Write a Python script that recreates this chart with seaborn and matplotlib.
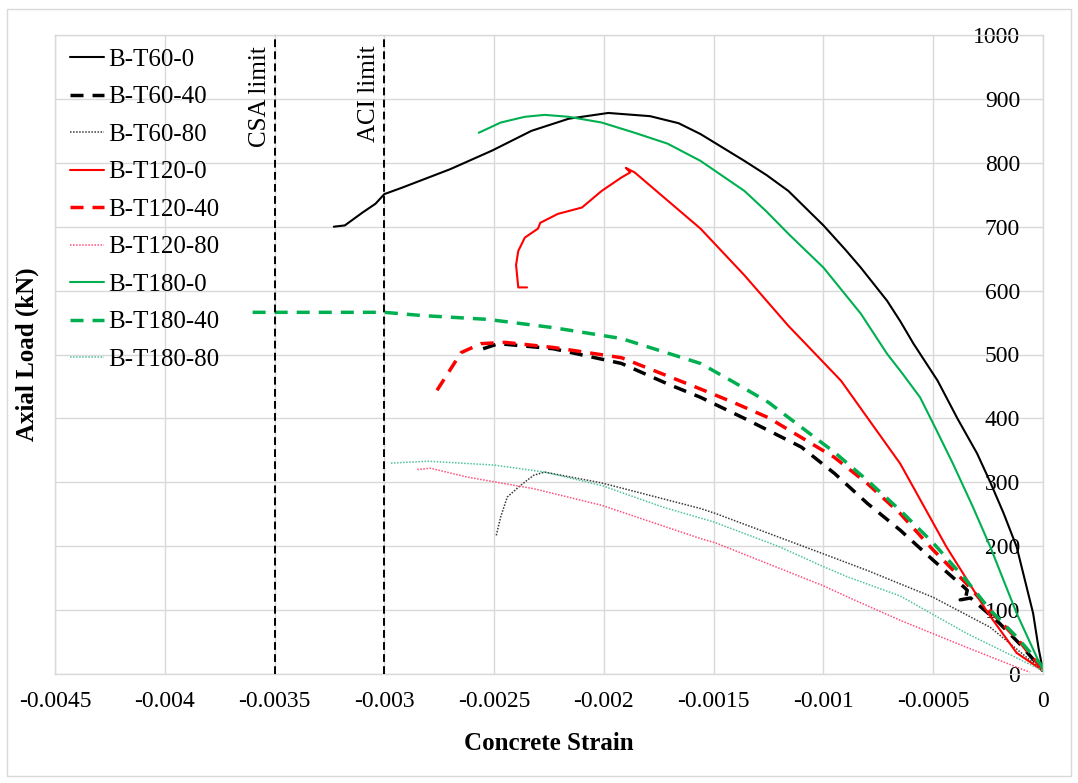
import numpy as np
import pandas as pd
import matplotlib
matplotlib.use("Agg")
import matplotlib.pyplot as plt
import seaborn as sns
from matplotlib.patches import Rectangle

# ---------------- data ----------------
series_names = ["B-T60-0", "B-T60-40", "B-T60-80",
                "B-T120-0", "B-T120-40", "B-T120-80",
                "B-T180-0", "B-T180-40", "B-T180-80"]

t60_0_x = [-0.00323, -0.00318, -0.00310, -0.00304, -0.00300, -0.00292, -0.00270, -0.00251,
           -0.00233, -0.00216, -0.00198, -0.00179, -0.00166, -0.00156, -0.00136, -0.00126,
           -0.00116, -0.00100, -0.00090, -0.00083, -0.00071, -0.00065, -0.00059, -0.00048,
           -0.00039, -0.00030, -0.00024, -0.00018, -0.00012, -0.000045, -0.00002, 0.0]
t60_0_y = [700, 702, 722, 736, 751, 761, 790, 819, 850, 869, 878, 873, 862, 845, 803, 781,
           756, 702, 664, 636, 584, 552, 517, 459, 400, 345, 300, 252, 199, 95, 40, 5]

t60_40_x = [-0.00255, -0.00248, -0.00223, -0.00192, -0.00171, -0.00156, -0.00136, -0.00125,
            -0.00110, -0.00095, -0.00080, -0.00065, -0.00050, -0.00036, -0.000345, -0.000355,
            -0.000377, -0.00033, -0.00020, -0.00010, 0.0]
t60_40_y = [509, 517, 509, 486, 454, 433, 400, 381, 355, 314, 267, 225, 178, 136, 131, 116,
            116, 119, 80, 45, 5]

t60_80_x = [-0.00249, -0.00247, -0.00244, -0.00238, -0.00232, -0.00227, -0.00201, -0.00156,
            -0.00149, -0.00100, -0.00080, -0.00050, -0.00024, 0.0]
t60_80_y = [217, 246, 277, 295, 311, 316, 299, 259, 251, 188, 162, 120, 73, 5]

t120_0_x = [-0.00235, -0.00239, -0.00240, -0.00239, -0.00236, -0.00230, -0.00229, -0.00221,
            -0.00210, -0.00201, -0.00192, -0.00188, -0.00190, -0.00186, -0.00156, -0.00136,
            -0.00116, -0.00092, -0.00065, -0.00044, -0.00025, -0.00012, 0.0]
t120_0_y = [605, 605, 640, 662, 683, 697, 706, 720, 730, 756, 777, 785, 792, 785, 697, 624,
            545, 459, 329, 199, 95, 33, 5]

t120_40_x = [-0.00276, -0.00265, -0.00256, -0.00245, -0.00223, -0.00192, -0.00156, -0.00141,
             -0.00125, -0.00110, -0.00095, -0.00080, -0.00065, -0.00050, -0.00035, -0.00023,
             -0.00010, 0.0]
t120_40_y = [444, 503, 517, 519, 511, 495, 446, 425, 401, 370, 339, 298, 251, 194, 142, 95,
             48, 6]

t120_80_x = [-0.00285, -0.00279, -0.00262, -0.00232, -0.00201, -0.00156, -0.00149, -0.00100,
             -0.00088, -0.00065, -0.00035, -0.00010, -0.00006]
t120_80_y = [320, 322, 308, 290, 264, 212, 205, 138, 119, 84, 42, 8, 3]

t180_0_x = [-0.00257, -0.00247, -0.00236, -0.00227, -0.00216, -0.00201, -0.00186, -0.00171,
            -0.00156, -0.00136, -0.00126, -0.00116, -0.00100, -0.00083, -0.00071, -0.00064,
            -0.00056, -0.00049, -0.00041, -0.00032, -0.00024, -0.00012, -0.00004, 0.0]
t180_0_y = [847, 863, 872, 875, 872, 863, 847, 830, 803, 756, 724, 689, 636, 564, 501, 470,
            433, 385, 329, 262, 199, 95, 35, 5]

t180_40_x = [-0.00360, -0.00300, -0.00283, -0.00253, -0.00223, -0.00192, -0.00156, -0.00141,
             -0.00125, -0.00110, -0.00095, -0.00080, -0.00065, -0.00050, -0.00035, -0.00024,
             -0.00012, 0.0]
t180_40_y = [566, 566, 561, 555, 542, 525, 486, 457, 425, 386, 347, 303, 256, 205, 147, 100,
             58, 11]

t180_80_x = [-0.00297, -0.00280, -0.00250, -0.00227, -0.00201, -0.00173, -0.00150, -0.00120,
             -0.00100, -0.00089, -0.00065, -0.00035, 0.0]
t180_80_y = [330, 333, 327, 316, 295, 261, 238, 199, 168, 152, 122, 64, 5]

series_x = [t60_0_x, t60_40_x, t60_80_x, t120_0_x, t120_40_x, t120_80_x,
            t180_0_x, t180_40_x, t180_80_x]
series_y = [t60_0_y, t60_40_y, t60_80_y, t120_0_y, t120_40_y, t120_80_y,
            t180_0_y, t180_40_y, t180_80_y]

limit_x = [-0.0035, -0.0030]
limit_labels = ["CSA limit", "ACI limit"]

x_ticks = [-0.0045, -0.004, -0.0035, -0.003, -0.0025, -0.002, -0.0015, -0.001, -0.0005, 0.0]
x_tick_labels = ["-0.0045", "-0.004", "-0.0035", "-0.003", "-0.0025", "-0.002",
                 "-0.0015", "-0.001", "-0.0005", "0"]
y_ticks = [0, 100, 200, 300, 400, 500, 600, 700, 800, 900, 1000]
y_tick_labels = [str(v) for v in y_ticks]

# ---------------- styles ----------------
solid = "-"
dash40 = (0, (3.75, 2.6))
dot80 = (0, (1, 1))
styles = {
    "B-T60-0":   dict(color="#000000", lw=1.5, ls=solid),
    "B-T60-40":  dict(color="#000000", lw=2.5, ls=dash40),
    "B-T60-80":  dict(color="#3a3a3a", lw=1.1, ls=dot80),
    "B-T120-0":  dict(color="#FF0000", lw=1.5, ls=solid),
    "B-T120-40": dict(color="#FF0000", lw=2.5, ls=dash40),
    "B-T120-80": dict(color="#FF4F7B", lw=1.1, ls=dot80),
    "B-T180-0":  dict(color="#00B050", lw=1.5, ls=solid),
    "B-T180-40": dict(color="#00B050", lw=2.5, ls=dash40),
    "B-T180-80": dict(color="#4FC49A", lw=1.1, ls=dot80),
}

sns.set_theme(style="white")
plt.rcParams["font.family"] = ["Liberation Serif", "DejaVu Serif"]

W, H = 1078, 783
fig = plt.figure(figsize=(W / 100, H / 100), dpi=100)
fig.patch.set_facecolor("white")
ax = fig.add_axes([55 / W, 1 - 674 / H, (1043 - 55) / W, (674 - 35) / H])

for name, xs, ys in zip(series_names, series_x, series_y):
    st = styles[name]
    sns.lineplot(x=xs, y=ys, sort=False, estimator=None, ax=ax, color=st["color"],
                 linewidth=st["lw"], linestyle=st["ls"], label=name)

for lx, lab in zip(limit_x, limit_labels):
    ax.axvline(lx, color="black", lw=1.4, ls=(0, (4, 2.2)), zorder=3)
    ax.text(lx - 0.000068, 983, lab, rotation=90, ha="center", va="top",
            fontsize=18, color="black")

ax.set_xlim(-0.0045, 0.0)
ax.set_ylim(0, 1000)
ax.set_xticks(x_ticks)
ax.set_xticklabels(x_tick_labels, fontsize=17)
ax.set_yticks(y_ticks)
ax.set_yticklabels(y_tick_labels, fontsize=17)

ax.yaxis.tick_right()
ax.tick_params(axis="y", length=0, pad=-16.5, labelright=True, labelleft=False, colors="black")
for lbl in ax.get_yticklabels():
    lbl.set_horizontalalignment("right")
ax.tick_params(axis="x", length=0, pad=12, colors="black")

ax.grid(True, color="#D9D9D9", lw=1)
ax.set_axisbelow(True)
for sp in ax.spines.values():
    sp.set_color("#D9D9D9")
    sp.set_linewidth(1)

ax.set_xlabel("Concrete Strain", fontsize=18, fontweight="bold", color="black")
ax.xaxis.set_label_coords(0.5, -0.091)
ax.set_ylabel("Axial Load (kN)", fontsize=18, fontweight="bold", color="black")
ax.yaxis.set_label_position("left")
ax.yaxis.set_label_coords(-0.016, 0.5)

leg = ax.legend(loc="upper left", bbox_to_anchor=(0.015, 0.979), frameon=False,
                fontsize=18, handlelength=1.35, handletextpad=0.2, labelspacing=0.6,
                borderpad=0, borderaxespad=0)
for t in leg.get_texts():
    t.set_color("black")

fig.patches.append(Rectangle((7 / W, 1 - 776 / H), (1071 - 7) / W, (776 - 9) / H,
                             transform=fig.transFigure, fill=False,
                             edgecolor="#D9D9D9", lw=1))

fig.savefig("out.png", dpi=100, facecolor="white")
